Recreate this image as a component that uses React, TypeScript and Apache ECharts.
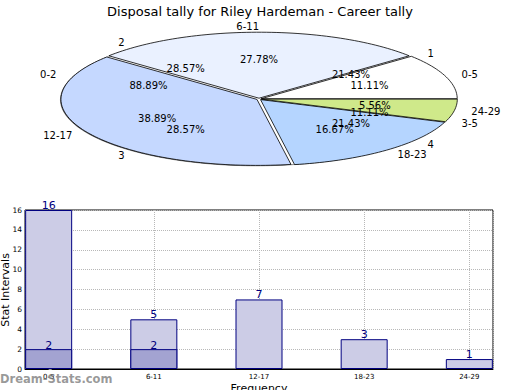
import React, { useEffect, useRef } from 'react';
import * as echarts from 'echarts';

const titleText = 'Disposal tally for Riley Hardeman - Career tally';

// Main pie (Career disposals by interval)
const pieCategories = ['0-5', '6-11', '12-17', '18-23', '24-29'];
const pieValues = [2, 5, 7, 3, 1];
const pieColors = ['#ffffff', '#eaf1ff', '#c5d8ff', '#b5d5ff', '#cfe98a'];

// Overlaid pie groups (labels only visible)
const groupLabels = ['0-2', '3-5'];
const groupValues = [16, 2];
const quarterLabels = ['1', '2', '3', '4'];
const quarterValues = [3, 4, 4, 3];

// Bar chart
const barCategories = ['0-5', '6-11', '12-17', '18-23', '24-29'];
const barTotals = [16, 5, 7, 3, 1];
const barOverlay = [2, 2, 0, 0, 0];
const yTicks = [0, 2, 4, 6, 8, 10, 12, 14, 16];
const yAxisTitle = 'Stat Intervals';
const xAxisTitle = 'Frequency';

const EXPLODE = 0.012;
const FONT = '"DejaVu Sans", Verdana, sans-serif';

function sliceAngles(values: number[]) {
  const total = values.reduce((a, b) => a + b, 0);
  let acc = 0;
  return values.map((v) => {
    const s = (acc / total) * Math.PI * 2;
    acc += v;
    const e = (acc / total) * Math.PI * 2;
    return { s, e, pct: (v / total) * 100 };
  });
}

type LabelItem = { text: string; ang: number; r: number; center: boolean };

function buildLabels(values: number[], labels: string[]): LabelItem[] {
  const out: LabelItem[] = [];
  sliceAngles(values).forEach((a, i) => {
    const m = (a.s + a.e) / 2;
    out.push({ text: labels[i], ang: m, r: 1.1, center: false });
    out.push({ text: a.pct.toFixed(2) + '%', ang: m, r: 0.6, center: true });
  });
  return out;
}

export default function App() {
  const ref = useRef<HTMLDivElement>(null);

  useEffect(() => {
    const chart = echarts.init(ref.current!, null, { renderer: 'svg' });
    const mainAngles = sliceAngles(pieValues);
    const labelItems: LabelItem[] = [
      ...buildLabels(quarterValues, quarterLabels),
      ...buildLabels(groupValues, groupLabels),
      ...buildLabels(pieValues, pieCategories),
    ];

    const ellipsePoints = (api: any, ox: number, oy: number) => {
      const pts: number[][] = [];
      for (let k = 0; k <= 180; k++) {
        const a = (k / 180) * Math.PI * 2;
        pts.push(api.coord([ox + Math.cos(a), oy + Math.sin(a)]));
      }
      return pts;
    };

    const option: any = {
      animation: false,
      backgroundColor: '#ffffff',
      title: {
        text: titleText,
        left: 'center',
        top: 0,
        textStyle: { fontFamily: FONT, fontSize: 13, fontWeight: 'normal', color: '#000' },
      },
      grid: [
        { left: 63, top: 33, width: 392, height: 132, show: false, outerBoundsMode: 'none', containLabel: false },
        {
          left: 25,
          right: 27,
          top: 210,
          bottom: 21,
          show: true,
          borderColor: '#000',
          borderWidth: 1,
          backgroundColor: 'transparent',
          outerBoundsMode: 'none',
          containLabel: false,
        },
      ],
      xAxis: [
        { gridIndex: 0, type: 'value', min: -1, max: 1, show: false },
        {
          gridIndex: 1,
          type: 'value',
          min: -0.225,
          max: 4.225,
          minInterval: 1,
          maxInterval: 1,
          name: xAxisTitle,
          nameLocation: 'middle',
          nameGap: 14,
          nameMoveOverlap: false,
          nameTextStyle: { fontFamily: FONT, fontSize: 11, color: '#000' },
          axisLine: { show: true, lineStyle: { color: '#000', width: 1 } },
          axisTick: { show: true, inside: true, length: 3, lineStyle: { color: '#999' } },
          axisLabel: {
            fontFamily: FONT,
            fontSize: 7,
            color: '#000',
            margin: 4,
            showMinLabel: false,
            showMaxLabel: false,
            formatter: (v: number) => {
              const r = Math.round(v);
              return Math.abs(v - r) < 1e-6 && barCategories[r] ? barCategories[r] : '';
            },
          },
          splitLine: { show: true, lineStyle: { color: '#b8b8b8', type: 'dotted', width: 1 } },
        },
      ],
      yAxis: [
        { gridIndex: 0, type: 'value', min: -1, max: 1, show: false },
        {
          gridIndex: 1,
          type: 'value',
          min: yTicks[0],
          max: yTicks[yTicks.length - 1],
          interval: yTicks[1] - yTicks[0],
          axisLine: { show: true, lineStyle: { color: '#000', width: 1 } },
          axisTick: { show: true, inside: true, length: 3, lineStyle: { color: '#999' } },
          axisLabel: { fontFamily: FONT, fontSize: 7.5, color: '#000', margin: 3 },
          splitLine: { show: true, lineStyle: { color: '#b8b8b8', type: 'dotted', width: 1 } },
        },
      ],
      graphic: [
        {
          type: 'text',
          x: 5,
          y: 290,
          rotation: Math.PI / 2,
          z: 100,
          style: {
            text: yAxisTitle,
            fill: '#000',
            font: '11px ' + FONT,
            align: 'center',
            verticalAlign: 'middle',
          },
        },
        {
          type: 'text',
          left: 0,
          top: 373,
          z: 100,
          style: {
            text: 'Dream-Stats.com',
            fill: 'rgba(120,120,120,0.75)',
            font: 'bold 11.5px ' + FONT,
          },
        },
      ],
      series: [
        {
          type: 'custom',
          name: 'shadow',
          xAxisIndex: 0,
          yAxisIndex: 0,
          z: 1,
          silent: true,
          data: [[0, 0, 0]],
          renderItem: (_p: any, api: any) => ({
            type: 'group',
            children: [
              {
                type: 'polygon',
                shape: { points: ellipsePoints(api, -0.013, -0.012) },
                style: { fill: 'rgba(40,40,40,0.85)', stroke: 'rgba(90,90,90,0.6)', lineWidth: 1 },
              },
              {
                type: 'polygon',
                shape: { points: ellipsePoints(api, 0, 0) },
                style: { fill: '#ffffff', stroke: '#ffffff', lineWidth: 0.5 },
              },
            ],
          }),
        },
        {
          type: 'custom',
          name: 'slices',
          xAxisIndex: 0,
          yAxisIndex: 0,
          z: 2,
          silent: true,
          data: pieValues.map((_, i) => [0, 0, i]),
          renderItem: (_p: any, api: any) => {
            const i = api.value(2);
            const { s, e } = mainAngles[i];
            const m = (s + e) / 2;
            const ox = EXPLODE * Math.cos(m);
            const oy = EXPLODE * Math.sin(m);
            const pts: number[][] = [api.coord([ox, oy])];
            const n = Math.max(8, Math.ceil((e - s) / (Math.PI / 120)));
            for (let k = 0; k <= n; k++) {
              const a = s + ((e - s) * k) / n;
              pts.push(api.coord([ox + Math.cos(a), oy + Math.sin(a)]));
            }
            return {
              type: 'polygon',
              shape: { points: pts },
              style: { fill: pieColors[i], stroke: '#000', lineWidth: 0.8, lineJoin: 'round' },
            };
          },
        },
        {
          type: 'custom',
          name: 'pieLabels',
          xAxisIndex: 0,
          yAxisIndex: 0,
          z: 3,
          silent: true,
          data: labelItems.map((_, i) => [0, 0, i]),
          renderItem: (_p: any, api: any) => {
            const it = labelItems[api.value(2)];
            const c = Math.cos(it.ang);
            const pos = api.coord([it.r * c, it.r * Math.sin(it.ang)]);
            const align = it.center ? 'center' : c > 1e-9 ? 'left' : 'right';
            return {
              type: 'text',
              x: pos[0],
              y: pos[1],
              style: {
                text: it.text,
                fill: '#000',
                font: '10px ' + FONT,
                align,
                verticalAlign: 'middle',
              },
            };
          },
        },
        {
          type: 'bar',
          name: 'total',
          xAxisIndex: 1,
          yAxisIndex: 1,
          barWidth: 47,
          barGap: '-100%',
          z: 2,
          data: barTotals.map((v, i) => [i, v]),
          itemStyle: { color: '#ccccE6', borderColor: '#000080', borderWidth: 1 },
          label: {
            show: true,
            position: 'top',
            distance: -1,
            color: '#000080',
            fontFamily: FONT,
            fontSize: 11,
          },
        },
        {
          type: 'bar',
          name: 'overlay',
          xAxisIndex: 1,
          yAxisIndex: 1,
          barWidth: 47,
          barGap: '-100%',
          z: 3,
          data: barOverlay.map((v, i) => [i, v]).filter((d) => d[1] > 0),
          itemStyle: { color: '#a3a3d1', borderColor: '#000080', borderWidth: 1 },
          label: {
            show: true,
            position: 'top',
            distance: -2,
            color: '#000080',
            fontFamily: FONT,
            fontSize: 11,
          },
        },
      ],
    };

    chart.setOption(option);
    return () => chart.dispose();
  }, []);

  return (
    <div
      ref={ref}
      style={{ position: 'fixed', left: 0, top: 0, width: 520, height: 390, background: '#fff' }}
    />
  );
}
